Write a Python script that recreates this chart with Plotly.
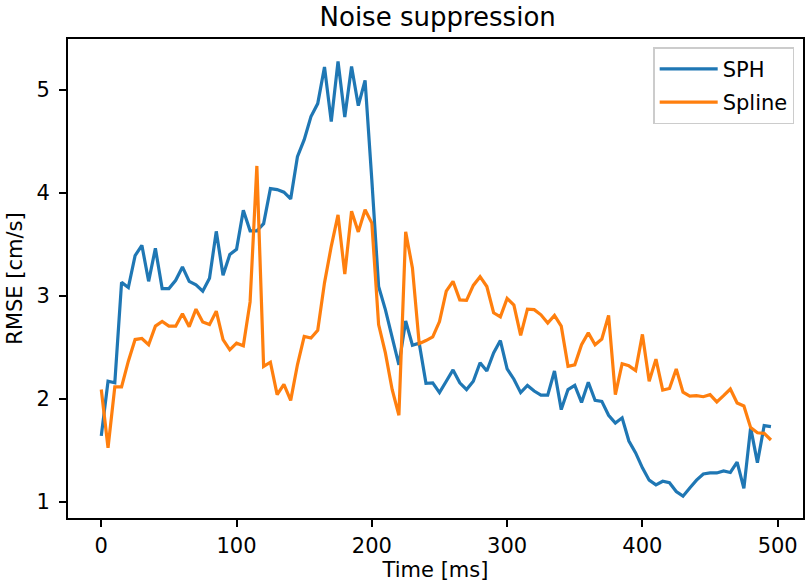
import plotly.graph_objects as go

time_ms = [0, 5, 10, 15, 20, 25, 30, 35, 40, 45, 50, 55, 60, 65, 70, 75, 80, 85, 90, 95,
           100, 105, 110, 115, 120, 125, 130, 135, 140, 145, 150, 155, 160, 165, 170, 175, 180, 185, 190, 195,
           200, 205, 210, 215, 220, 225, 230, 235, 240, 245, 250, 255, 260, 265, 270, 275, 280, 285, 290, 295,
           300, 305, 310, 315, 320, 325, 330, 335, 340, 345, 350, 355, 360, 365, 370, 375, 380, 385, 390, 395,
           400, 405, 410, 415, 420, 425, 430, 435, 440, 445, 450, 455, 460, 465, 470, 475, 480, 485, 490, 495]

sph = [1.64, 2.17, 2.155, 3.13, 3.08, 3.39, 3.49, 3.14, 3.46, 3.07,
       3.07, 3.15, 3.28, 3.14, 3.105, 3.045, 3.17, 3.625, 3.20, 3.40,
       3.45, 3.83, 3.63, 3.63, 3.70, 4.04, 4.03, 4.005, 3.94, 4.35,
       4.515, 4.74, 4.865, 5.22, 4.69, 5.275, 4.735, 5.225, 4.845, 5.09,
       4.12, 3.09, 2.865, 2.61, 2.33, 2.755, 2.52, 2.54, 2.15, 2.155,
       2.06, 2.17, 2.28, 2.155, 2.09, 2.17, 2.35, 2.27, 2.445, 2.565,
       2.29, 2.19, 2.06, 2.13, 2.075, 2.035, 2.035, 2.27, 1.895, 2.09,
       2.13, 1.965, 2.16, 1.985, 1.975, 1.84, 1.765, 1.815, 1.59, 1.475,
       1.33, 1.21, 1.165, 1.20, 1.185, 1.10, 1.055, 1.135, 1.21, 1.27,
       1.28, 1.28, 1.30, 1.285, 1.385, 1.13, 1.72, 1.38, 1.74, 1.73]

spline = [2.09, 1.525, 2.115, 2.115, 2.365, 2.575, 2.585, 2.525, 2.705, 2.75,
          2.705, 2.705, 2.825, 2.70, 2.87, 2.745, 2.72, 2.85, 2.575, 2.475,
          2.54, 2.515, 2.94, 4.26, 2.315, 2.355, 2.04, 2.14, 1.985, 2.33,
          2.605, 2.59, 2.665, 3.125, 3.48, 3.785, 3.21, 3.82, 3.62, 3.835,
          3.705, 2.72, 2.445, 2.09, 1.84, 3.62, 3.27, 2.535, 2.565, 2.60,
          2.75, 3.045, 3.14, 2.96, 2.955, 3.10, 3.185, 3.09, 2.835, 2.795,
          2.975, 2.91, 2.615, 2.87, 2.865, 2.815, 2.735, 2.81, 2.705, 2.315,
          2.33, 2.525, 2.64, 2.525, 2.58, 2.81, 2.04, 2.34, 2.32, 2.275,
          2.625, 2.17, 2.385, 2.085, 2.10, 2.29, 2.065, 2.025, 2.03, 2.02,
          2.04, 1.97, 2.03, 2.095, 1.96, 1.93, 1.72, 1.67, 1.665, 1.60]

x_ticks = [0, 100, 200, 300, 400, 500]
y_ticks = [1, 2, 3, 4, 5]

FONT = "DejaVu Sans"
FS = 21

fig = go.Figure()
fig.add_trace(go.Scatter(x=time_ms, y=sph, mode="lines", name="SPH", legendgroup="a",
                         line=dict(color="#1f77b4", width=3.2)))
fig.add_trace(go.Scatter(x=time_ms, y=spline, mode="lines", name="Spline", legendgroup="b",
                         line=dict(color="#ff7f0e", width=3.2)))

axis_common = dict(showgrid=False, zeroline=False, showline=True, linecolor="black",
                   linewidth=1.7, mirror=True, ticks="outside", ticklen=7, tickwidth=1.7,
                   tickcolor="black", tickfont=dict(family=FONT, size=FS, color="black"))

fig.update_layout(
    width=806, height=586,
    margin=dict(l=68, r=1, t=39, b=67.5),
    paper_bgcolor="white", plot_bgcolor="white",
    title=dict(text="Noise suppression", x=0.543, xanchor="center", y=0.972, yanchor="middle",
               font=dict(family=FONT, size=26, color="black")),
    xaxis=dict(range=[-24.6, 518.7], tickvals=x_ticks, ticklabelstandoff=1,
               title=dict(text="Time [ms]", standoff=5, font=dict(family=FONT, size=FS, color="black")),
               **axis_common),
    yaxis=dict(range=[0.843, 5.492], tickvals=y_ticks, ticklabelstandoff=5,
               title=dict(text="RMSE [cm/s]", standoff=8, font=dict(family=FONT, size=FS, color="black")),
               **axis_common),
    legend=dict(x=0.988, y=0.983, xanchor="right", yanchor="top",
                bgcolor="rgba(255,255,255,0.8)", bordercolor="#cccccc", borderwidth=1.5,
                font=dict(family=FONT, size=FS, color="black"), itemwidth=58,
                tracegroupgap=3),
    showlegend=True,
)

fig.write_html("out.html")
